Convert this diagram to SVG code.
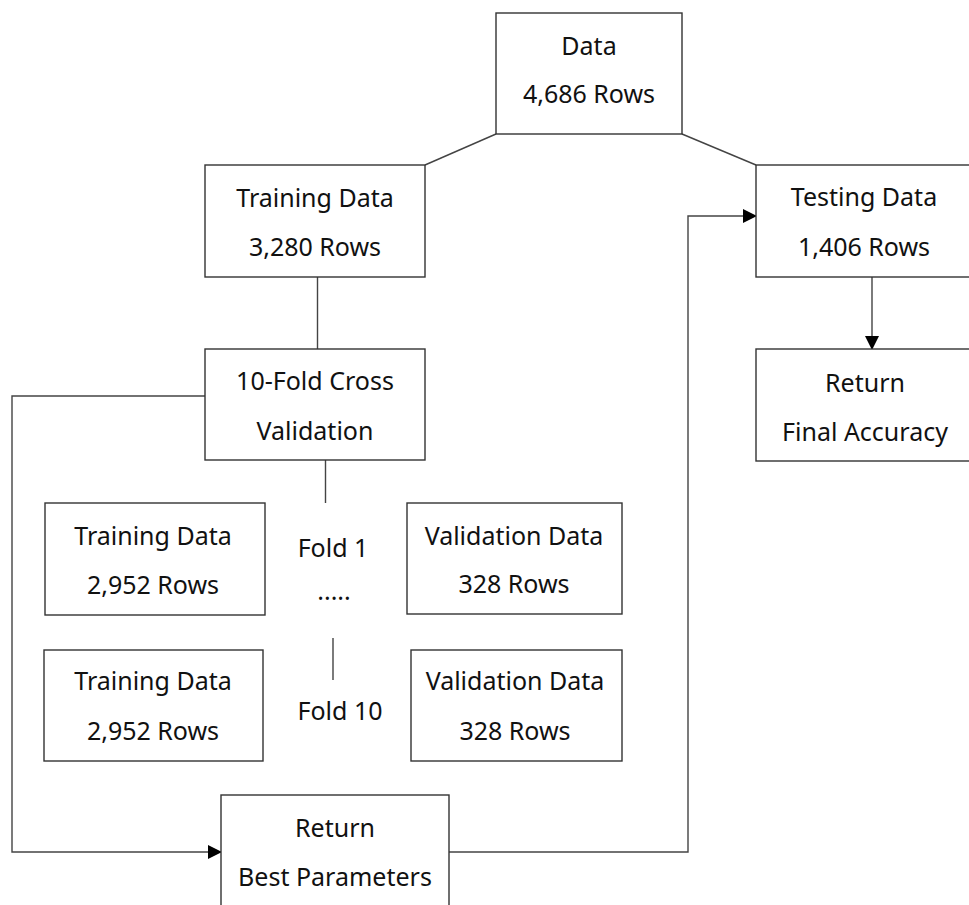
<svg xmlns="http://www.w3.org/2000/svg" width="969" height="905" viewBox="0 0 969 905">
<defs>
<style>
.box{fill:#fff;stroke:#333;stroke-width:1.4}
.t{font-family:"Noto Sans","Liberation Sans",sans-serif;font-size:25px;fill:#111;text-anchor:middle}
.c{fill:none;stroke:#444;stroke-width:1.4}
</style>
<marker id="ah" markerWidth="14" markerHeight="14" refX="13" refY="7" orient="auto" markerUnits="userSpaceOnUse">
<path d="M0,0 L14,7 L0,14 Z" fill="#000"/>
</marker>
</defs>
<rect width="969" height="905" fill="#fff"/>
<g id="connectors">
<path class="c" d="M496,134 L425,165"/>
<path class="c" d="M682,134 L756,165"/>
<path class="c" d="M317.5,277 L317.5,349"/>
<path class="c" d="M325.5,460 L325.5,503"/>
<path class="c" d="M333,638 L333,680"/>
<path class="c" d="M205,396 L12,396 L12,852 L221,852" marker-end="url(#ah)"/>
<path class="c" d="M449,852 L688,852 L688,216 L756,216" marker-end="url(#ah)"/>
<path class="c" d="M872,277 L872,349" marker-end="url(#ah)"/>
</g>
<g id="data">
<rect class="box" x="496" y="13" width="186" height="121"/>
<text class="t" x="589" y="55">Data</text>
<text class="t" x="589" y="103">4,686 Rows</text>
</g>
<g id="training">
<rect class="box" x="205" y="165" width="220" height="112"/>
<text class="t" x="315" y="207">Training Data</text>
<text class="t" x="315" y="256">3,280 Rows</text>
</g>
<g id="testing">
<rect class="box" x="756" y="165" width="230" height="112"/>
<text class="t" x="864" y="206">Testing Data</text>
<text class="t" x="864" y="256">1,406 Rows</text>
</g>
<g id="final">
<rect class="box" x="756" y="349" width="230" height="112"/>
<text class="t" x="865" y="392">Return</text>
<text class="t" x="865" y="441">Final Accuracy</text>
</g>
<g id="cv">
<rect class="box" x="205" y="349" width="220" height="111"/>
<text class="t" x="315" y="390">10-Fold Cross</text>
<text class="t" x="315" y="440">Validation</text>
</g>
<g id="train1">
<rect class="box" x="45" y="503" width="220" height="112"/>
<text class="t" x="153" y="545">Training Data</text>
<text class="t" x="153" y="594">2,952 Rows</text>
</g>
<g id="val1">
<rect class="box" x="407" y="503" width="215" height="111"/>
<text class="t" x="514" y="545">Validation Data</text>
<text class="t" x="514" y="593">328 Rows</text>
</g>
<g id="fold1">
<text class="t" x="333" y="557">Fold 1</text>
<text class="t" x="334" y="600">.....</text>
</g>
<g id="train2">
<rect class="box" x="44" y="650" width="219" height="111"/>
<text class="t" x="153" y="690">Training Data</text>
<text class="t" x="153" y="740">2,952 Rows</text>
</g>
<g id="val2">
<rect class="box" x="411" y="650" width="211" height="111"/>
<text class="t" x="515" y="690">Validation Data</text>
<text class="t" x="515" y="740">328 Rows</text>
</g>
<g id="fold10">
<text class="t" x="340" y="720">Fold 10</text>
</g>
<g id="best">
<rect class="box" x="221" y="795" width="228" height="120"/>
<text class="t" x="335" y="837">Return</text>
<text class="t" x="335" y="886">Best Parameters</text>
</g>
</svg>
